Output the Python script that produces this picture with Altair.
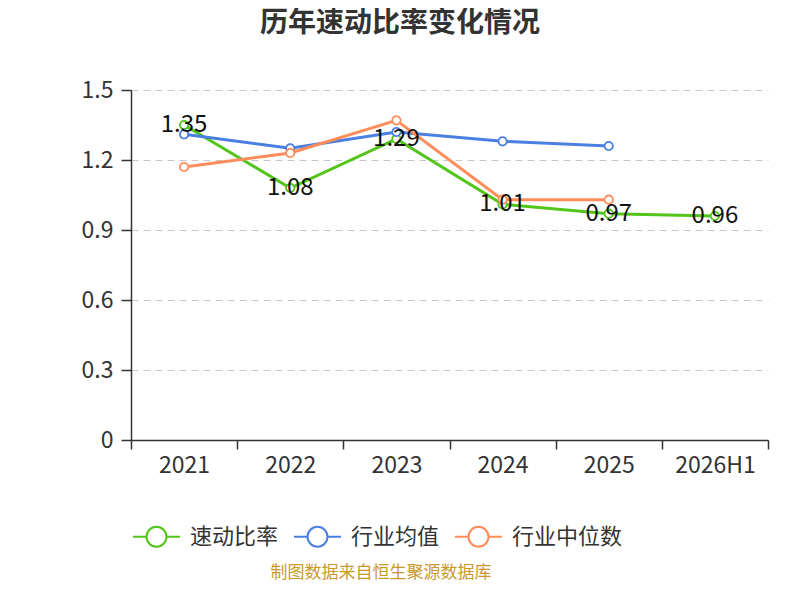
import altair as alt
import pandas as pd

years = ["2021", "2022", "2023", "2024", "2025", "2026H1"]
quick_ratio = [1.35, 1.08, 1.29, 1.01, 0.97, 0.96]
industry_mean = [1.31, 1.25, 1.32, 1.28, 1.26, None]
industry_median = [1.17, 1.23, 1.37, 1.03, 1.03, None]
series_names = ["速动比率", "行业均值", "行业中位数"]
series_colors = ["#52c41a", "#4a7fe2", "#ff8c5a"]
y_ticks = [0, 0.3, 0.6, 0.9, 1.2, 1.5]
title_text = "历年速动比率变化情况"
source_text = "制图数据来自恒生聚源数据库"

FONT = "Noto Sans CJK SC"

rows = []
for name, vals in zip(series_names, [quick_ratio, industry_mean, industry_median]):
    for yr, v in zip(years, vals):
        if v is not None:
            rows.append({"year": yr, "series": name, "value": v})
df = pd.DataFrame(rows)

x_enc = alt.X(
    "year:N",
    sort=years,
    scale=alt.Scale(type="band", paddingInner=0, paddingOuter=0, domain=years),
    axis=alt.Axis(
        tickBand="extent", labelAngle=0, tickSize=9, labelPadding=5, grid=False,
        title=None, domainColor="#333333", tickColor="#333333", domainWidth=1.5,
        tickWidth=1.5, labelFontSize=23, labelColor="#333333", labelFont=FONT,
    ),
)
y_enc = alt.Y(
    "value:Q",
    scale=alt.Scale(domain=[0, 1.5], nice=False, zero=True),
    axis=alt.Axis(
        values=y_ticks, format=".1~f", grid=True, gridDash=[7, 5], gridColor="#c8c8c8",
        domainColor="#333333", tickColor="#333333", tickSize=10, labelPadding=8,
        domainWidth=1.5, tickWidth=1.5, labelFontSize=23, labelColor="#333333",
        labelFont=FONT, title=None,
    ),
)
color_enc = alt.Color(
    "series:N",
    scale=alt.Scale(domain=series_names, range=series_colors),
    sort=series_names,
    legend=alt.Legend(title=None),
)

layers = []
for name in series_names:
    base = alt.Chart(df).transform_filter(alt.datum.series == name)
    layers.append(base.mark_line(strokeWidth=3).encode(x=x_enc, y=y_enc, color=color_enc))
for name in series_names:
    base = alt.Chart(df).transform_filter(alt.datum.series == name)
    layers.append(
        base.mark_point(filled=False, fill="white", size=70, strokeWidth=1.8, opacity=1).encode(
            x=x_enc, y=y_enc, color=color_enc
        )
    )

labels = (
    alt.Chart(df)
    .transform_filter(alt.datum.series == series_names[0])
    .mark_text(fontSize=24, font=FONT, color="#111111", align="center", baseline="middle")
    .encode(x=x_enc, y=y_enc, text=alt.Text("value:Q", format=".2f"))
)
layers.append(labels)

title_mark = (
    alt.Chart(pd.DataFrame({"t": [title_text]}))
    .mark_text(fontSize=28, fontWeight="bold", font=FONT, color="#333333",
               align="center", baseline="middle")
    .encode(x=alt.value(269), y=alt.value(-66), text="t:N")
)
layers.append(title_mark)

source = (
    alt.Chart(pd.DataFrame({"t": [source_text]}))
    .mark_text(fontSize=17, font=FONT, color="#c9992e", align="center", baseline="middle")
    .encode(x=alt.value(250), y=alt.value(483), text="t:N")
)
layers.append(source)

legend_path = (
    "M-1,0L-0.425,0M0.425,0L1,0"
    "M0.425,0A0.425,0.425,0,1,1,-0.425,0A0.425,0.425,0,1,1,0.425,0Z"
)

chart = (
    alt.layer(*layers)
    .properties(
        width=637,
        height=350,
        autosize=alt.AutoSizeParams(type="none"),
        padding={"left": 123, "top": 82, "right": 20, "bottom": 144},
    )
    .configure_view(stroke=None)
    .configure_legend(
        orient="none", legendX=1, legendY=422, direction="horizontal", columns=3,
        symbolType=legend_path, symbolSize=2209, symbolStrokeWidth=2,
        symbolFillColor="white", labelFontSize=22, labelFont=FONT, labelColor="#333333",
        labelOffset=9, columnPadding=11, padding=0,
    )
)

chart.save("out.html", embed_options={"renderer": "svg", "actions": False})
